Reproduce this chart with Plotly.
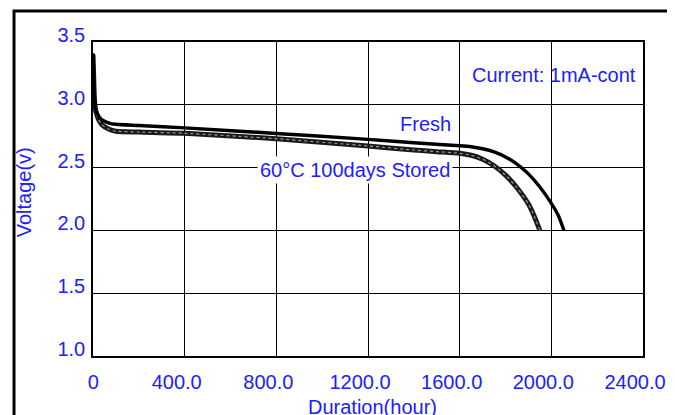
import plotly.graph_objects as go

# Data
fresh_hours = [0, 3, 6, 10, 15, 25, 40, 70, 100, 200, 400, 800, 1200, 1400, 1600, 1650, 1700,
               1750, 1800, 1850, 1900, 1950, 2000, 2030, 2055]
fresh_volts = [3.41, 3.25, 3.08, 2.99, 2.95, 2.91, 2.88, 2.855, 2.845, 2.835, 2.816, 2.772, 2.725,
               2.698, 2.674, 2.666, 2.65, 2.625, 2.585, 2.528, 2.45, 2.345, 2.215, 2.12, 2.0]

stored_hours = [0, 3, 6, 10, 15, 25, 40, 70, 100, 200, 400, 800, 1200, 1400, 1500, 1600, 1650,
                1700, 1750, 1800, 1850, 1900, 1925, 1950]
stored_volts = [3.40, 3.22, 3.05, 2.97, 2.93, 2.88, 2.84, 2.805, 2.79, 2.783, 2.773, 2.73, 2.672,
                2.64, 2.627, 2.614, 2.598, 2.567, 2.515, 2.44, 2.34, 2.21, 2.115, 2.0]

x_ticks = [0, 400, 800, 1200, 1600, 2000, 2400]
x_tick_labels = ["\u00a0\u00a0\u00a00", "400.0", "800.0", "1200.0", "1600.0", "2000.0", "2400.0"]
y_ticks = [1.0, 1.5, 2.0, 2.5, 3.0, 3.5]
y_tick_labels = ["1.0", "1.5", "2.0", "2.5", "3.0", "3.5"]

BLUE = "#2020ff"
FONT = "Liberation Sans, Arial, sans-serif"
FS = 20

fig = go.Figure()
fig.add_trace(go.Scatter(x=stored_hours, y=stored_volts, mode="lines",
                         line=dict(color="#1a1a1a", width=5, shape="spline", smoothing=0.6),
                         hoverinfo="skip", showlegend=False))
fig.add_trace(go.Scatter(x=stored_hours, y=stored_volts, mode="lines",
                         line=dict(color="#9a9a9a", width=1.2, dash="dot", shape="spline", smoothing=0.6),
                         hoverinfo="skip", showlegend=False))
fig.add_trace(go.Scatter(x=fresh_hours, y=fresh_volts, mode="lines",
                         line=dict(color="black", width=3.4, shape="spline", smoothing=0.6),
                         hoverinfo="skip", showlegend=False))

fig.add_annotation(x=1646, y=3.237, xref="x", yref="y", text="Current: 1mA-cont",
                   showarrow=False, xanchor="left", yanchor="middle",
                   font=dict(family=FONT, size=FS, color=BLUE))
fig.add_annotation(x=1572, y=2.85, xref="x", yref="y", text="Fresh",
                   showarrow=False, xanchor="right", yanchor="middle",
                   font=dict(family=FONT, size=FS, color=BLUE))
fig.add_annotation(x=1572, y=2.48, xref="x", yref="y", text="60°C 100days Stored",
                   showarrow=False, xanchor="right", yanchor="middle", bgcolor="white",
                   borderpad=2,
                   font=dict(family=FONT, size=FS, color=BLUE))

# axis titles
fig.add_annotation(x=1220, y=0, xref="x", yref="paper", yshift=-38,
                   text="Duration(hour)", showarrow=False,
                   xanchor="center", yanchor="top",
                   font=dict(family=FONT, size=FS, color=BLUE))
fig.add_annotation(x=-0.125, y=0.522, xref="paper", yref="paper",
                   text="Voltage(v)", showarrow=False, textangle=-90,
                   xanchor="center", yanchor="middle",
                   font=dict(family=FONT, size=FS, color=BLUE))

# outer frame
fig.add_shape(type="rect", xref="paper", yref="paper",
              x0=-0.1436, x1=1.0475, y0=-0.5, y1=1.0987,
              line=dict(color="black", width=3), layer="below")

# page body has an 8px margin, so the figure is offset by 8px
fig.update_layout(
    width=675, height=415,
    margin=dict(l=85, r=40, t=34, b=67, autoexpand=False),
    paper_bgcolor="white", plot_bgcolor="white",
    font=dict(family=FONT, size=FS, color=BLUE),
    xaxis=dict(range=[0, 2400], tickvals=x_ticks, ticktext=x_tick_labels,
               showgrid=True, gridcolor="black", gridwidth=1.3,
               showline=True, linecolor="black", linewidth=1.6, mirror=True,
               zeroline=False, ticks="", tickfont=dict(size=FS, color=BLUE),
               ticklabelstandoff=7, ticklabelshift=-8, automargin=False),
    yaxis=dict(range=[1.0, 3.5], tickvals=y_ticks, ticktext=y_tick_labels,
               showgrid=True, gridcolor="black", gridwidth=1.3,
               showline=True, linecolor="black", linewidth=1.6, mirror=True,
               zeroline=False, ticks="", tickfont=dict(size=FS, color=BLUE),
               ticklabelshift=-7, ticklabelstandoff=2, automargin=False),
)

fig.write_html("out.html")
